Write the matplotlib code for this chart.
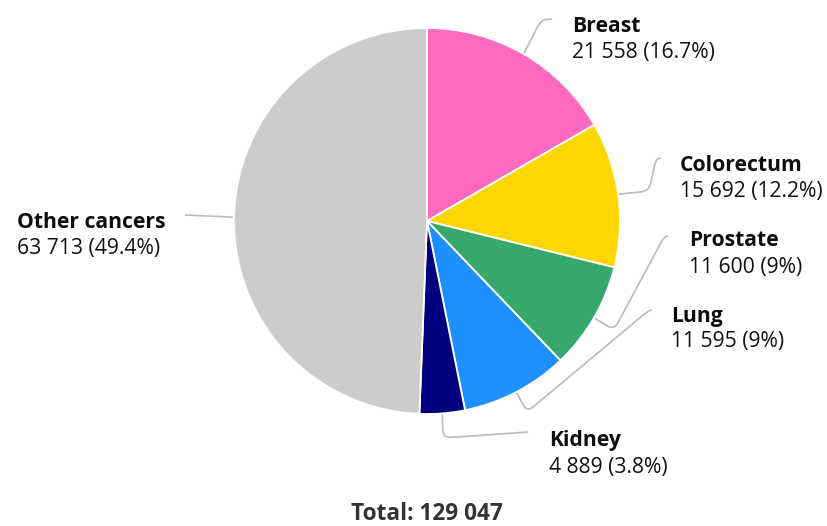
import numpy as np
import matplotlib.pyplot as plt
from matplotlib.path import Path
from matplotlib.patches import PathPatch

plt.rcParams['font.family'] = ['Open Sans', 'Noto Sans', 'DejaVu Sans']

# data
labels = ['Breast', 'Colorectum', 'Prostate', 'Lung', 'Kidney', 'Other cancers']
counts = [21558, 15692, 11600, 11595, 4889, 63713]
pct_text = ['16.7%', '12.2%', '9%', '9%', '3.8%', '49.4%']
colors = ['#ff69be', '#ffd700', '#36a86c', '#1e90ff', '#000080', '#cccccc']
total = 129047

W, H = 828, 526
cx, cy, R = 427, 221, 193


def fy(y):
    # pixel row -> data y (y up)
    return H - y


fig = plt.figure(figsize=(W / 100, H / 100), dpi=100)
ax = fig.add_axes([0, 0, 1, 1])

wedges, _ = ax.pie(counts, colors=colors, startangle=90, counterclock=False,
                   center=(cx, fy(cy)), radius=R, frame=True,
                   wedgeprops=dict(edgecolor='white', linewidth=1.3))
ax.set_xlim(0, W)
ax.set_ylim(0, H)
ax.set_aspect('equal')
ax.axis('off')

# label layout: (x, name baseline, value baseline) and connector bend points
layout = {
    'Breast': (572, 32, 58, [(541, 20), (552, 19)]),
    'Colorectum': (680, 171, 197, [(649, 191), (656, 159), (661, 158)]),
    'Prostate': (689, 246, 273, [(614, 330), (664, 237), (668, 236)]),
    'Lung': (671, 322, 347, [(527, 412), (648, 311), (652, 310)]),
    'Kidney': (549, 446, 473, [(443, 438), (528, 432)]),
    'Other cancers': (17, 228, 254, [(185, 215)]),
}


def rounded_path(pts, r=8):
    verts = [pts[0]]
    codes = [Path.MOVETO]
    for i in range(1, len(pts) - 1):
        p0, p1, p2 = map(np.array, (pts[i - 1], pts[i], pts[i + 1]))
        d1 = p0 - p1
        d2 = p2 - p1
        r1 = min(r, np.linalg.norm(d1) / 2)
        r2 = min(r, np.linalg.norm(d2) / 2)
        a = p1 + d1 / np.linalg.norm(d1) * r1
        b = p1 + d2 / np.linalg.norm(d2) * r2
        verts += [tuple(a), tuple(p1), tuple(b)]
        codes += [Path.LINETO, Path.CURVE3, Path.CURVE3]
    verts.append(pts[-1])
    codes.append(Path.LINETO)
    return Path(verts, codes)


for w, name, n, p in zip(wedges, labels, counts, pct_text):
    ang = np.deg2rad((w.theta1 + w.theta2) / 2)
    sx = cx + R * np.cos(ang)
    sy = fy(cy) + R * np.sin(ang)
    x, yb1, yb2, bends = layout[name]
    pts = [(sx, sy)] + [(bx, fy(by)) for bx, by in bends]
    ax.add_patch(PathPatch(rounded_path(pts), fill=False, edgecolor='#bbbbbb',
                           linewidth=1.2, zorder=0))
    ax.text(x, fy(yb1), name, fontsize=15.2, fontweight='bold', color='#0d0d0d',
            va='baseline', ha='left')
    ax.text(x, fy(yb2), f'{n:,}'.replace(',', ' ') + f' ({p})', fontsize=15.2,
            color='#111111', va='baseline', ha='left')

ax.text(cx, fy(520), f'Total: {total:,}'.replace(',', ' '), fontsize=16.3,
        fontweight='bold', color='#333333', va='baseline', ha='center')

fig.savefig('out.png', dpi=100)
